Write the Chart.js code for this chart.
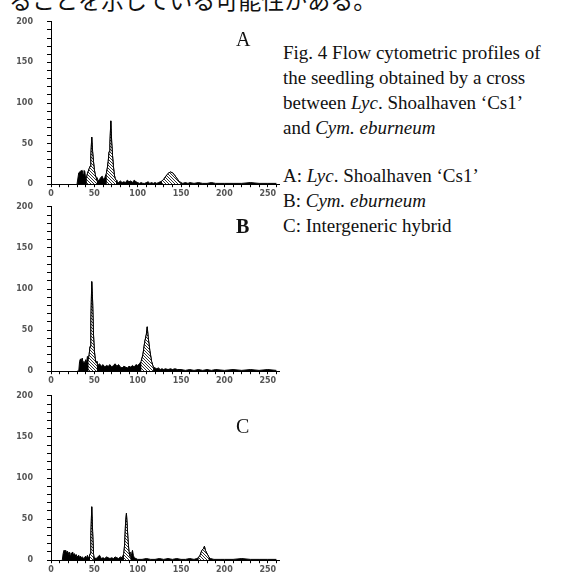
<!DOCTYPE html>
<html>
<head>
  <meta charset="utf-8">
  <title>Flow cytometric profiles</title>
  <script src="https://cdn.jsdelivr.net/npm/chart.js"></script>
  <style>
    body { margin: 0; width: 574px; height: 572px; overflow: hidden; background: #fff; position: relative; }
    canvas { position: absolute; left: 0; }
    .jp { position: absolute; left: 9px; top: -12px; font: 23px/23px "Noto Sans CJK JP"; white-space: nowrap; color: #111; }
    .panel { position: absolute; left: 236px; font: 20px/20px "Liberation Serif"; color: #111; }
    .cap { position: absolute; left: 283px; font: 19px/25px "Liberation Serif"; color: #111; white-space: nowrap; }
  </style>
</head>
<body>
  <div class="jp">ることを示している可能性がある。</div>

  <canvas id="chartA" width="283" height="200" style="top:3px"></canvas>
  <canvas id="chartB" width="283" height="202" style="top:188px"></canvas>
  <canvas id="chartC" width="283" height="202" style="top:377px"></canvas>

  <div class="panel" style="top:29px">A</div>
  <div class="panel" style="top:216px; font-weight:bold">B</div>
  <div class="panel" style="top:416px">C</div>

  <div class="cap" style="top:40px">Fig. 4 Flow cytometric profiles of<br>the seedling obtained by a cross<br>between <i>Lyc</i>. Shoalhaven ‘Cs1’<br>and <i>Cym. eburneum</i></div>
  <div class="cap" style="top:163px">A: <i>Lyc</i>. Shoalhaven ‘Cs1’<br>B: <i>Cym. eburneum</i><br>C: Intergeneric hybrid</div>

  <script>
    // channel / count pairs
    const histA = [[30,0],[31,0],[32,14],[34,16],[36,17],[37,12],[38,17],[39,16],[40,6],[41,8],[42,13],[43,16],[44,19],[45,22],[46,35],[47,58],[48,40],[49,28],[50,18],[51,12],[52,8],[53,5],[54,4],[56,6],[58,9],[59,10],[60,7],[61,5],[62,8],[64,14],[65,20],[66,28],[67,40],[68,50],[69,78],[70,52],[71,35],[72,22],[73,12],[74,7],[75,5],[76,3],[78,2],[80,4],[82,2],[84,3],[86,2],[88,5],[90,3],[92,4],[94,2],[96,5],[98,3],[100,2],[102,1],[104,2],[106,1],[108,1],[110,2],[112,3],[114,1],[116,2],[118,1],[120,2],[122,1],[124,2],[126,3],[128,4],[130,6],[132,9],[134,12],[136,14],[138,15],[140,14],[142,12],[144,9],[146,6],[148,3],[150,2],[152,1],[155,2],[158,1],[160,2],[165,1],[170,2],[175,1],[180,1],[185,2],[190,1],[200,1],[210,1],[220,1],[230,2],[240,1],[250,1],[260,1]];
    const histB = [[30,0],[32,0],[33,12],[34,15],[35,13],[36,16],[37,10],[38,12],[39,8],[40,14],[41,10],[42,18],[43,14],[44,20],[45,30],[46,60],[47,109],[48,85],[49,45],[50,25],[51,15],[52,10],[53,12],[54,7],[56,9],[58,6],[60,8],[62,5],[64,7],[66,6],[68,8],[70,5],[72,7],[74,9],[76,6],[78,8],[80,5],[82,4],[84,6],[86,5],[88,4],[90,6],[92,5],[94,7],[96,5],[98,8],[100,7],[102,9],[104,12],[106,20],[108,35],[110,45],[111,54],[112,42],[114,25],[116,12],[118,5],[120,4],[122,3],[124,4],[126,2],[128,3],[130,2],[132,3],[135,2],[138,3],[140,2],[143,3],[146,2],[150,2],[155,1],[160,2],[165,1],[170,2],[175,1],[180,2],[185,1],[190,2],[200,1],[210,2],[220,1],[230,2],[240,1],[250,2],[260,1]];
    const histC = [[13,0],[14,8],[15,12],[16,10],[17,12],[18,9],[19,11],[20,7],[21,10],[22,6],[23,9],[24,8],[25,10],[26,6],[27,8],[28,5],[29,7],[30,4],[32,6],[33,3],[34,5],[35,3],[36,4],[38,2],[40,5],[41,2],[42,6],[43,3],[44,4],[45,8],[46,30],[47,65],[48,35],[49,8],[50,3],[52,2],[54,4],[56,6],[58,2],[60,3],[62,2],[64,4],[66,3],[68,2],[70,3],[72,2],[74,4],[76,3],[78,2],[80,4],[82,3],[84,8],[85,20],[86,45],[87,57],[88,40],[89,22],[90,10],[91,5],[92,3],[93,8],[94,12],[95,6],[96,3],[98,2],[100,1],[105,1],[110,2],[115,1],[120,1],[125,2],[130,1],[135,2],[140,1],[145,2],[150,1],[155,1],[160,2],[165,1],[168,2],[170,3],[172,6],[174,12],[176,14],[177,17],[178,12],[180,8],[182,4],[184,2],[188,1],[195,1],[200,1],[210,1],[220,2],[230,1],[240,1],[250,1],[260,1]];

    // gated (hatched) peak regions, in channels
    const peaksA = [[41,53],[63,75],[128,150]];
    const peaksB = [[43,53],[103,118]];
    const peaksC = [[45,49],[84,92],[170,182]];

    const yTicks = [0, 50, 100, 150, 200];
    const xTicks = [0, 50, 100, 150, 200, 250];

    function hatch() {
      const c = document.createElement('canvas');
      c.width = 3; c.height = 3;
      const g = c.getContext('2d');
      g.fillStyle = '#fff';
      g.fillRect(0, 0, 3, 3);
      g.fillStyle = '#333';
      g.fillRect(0, 0, 1, 1);
      g.fillRect(1, 1, 1, 1);
      g.fillRect(2, 2, 1, 1);
      return g.createPattern(c, 'repeat');
    }

    const tickFont = { family: 'DejaVu Sans', size: 8, weight: 'bold' };

    function drawPanel(id, hist, peaks) {
      const pts = hist.map(p => ({ x: p[0], y: p[1] }));
      // peak points, with a gap between separate peaks
      const peakPts = [];
      peaks.forEach(r => {
        pts.filter(p => p.x >= r[0] && p.x <= r[1]).forEach(p => peakPts.push(p));
        peakPts.push({ x: r[1] + 0.5, y: null });
      });

      new Chart(document.getElementById(id), {
        type: 'line',
        data: {
          datasets: [
            {
              data: pts,
              borderColor: '#000',
              borderWidth: 1,
              backgroundColor: '#000',
              fill: 'origin',
              pointRadius: 0,
              order: 2,
            },
            {
              data: peakPts,
              borderColor: '#000',
              borderWidth: 1,
              backgroundColor: hatch(),
              fill: 'origin',
              pointRadius: 0,
              spanGaps: false,
              order: 1,
            },
          ],
        },
        options: {
          responsive: false,
          animation: false,
          layout: { padding: { top: 8, right: 4, left: 0, bottom: 0 } },
          plugins: { legend: { display: false }, tooltip: { enabled: false } },
          scales: {
            x: {
              type: 'linear',
              min: 0,
              max: 263,
              afterFit: s => { s.height = 16; },
              border: { display: true, color: '#000', width: 1 },
              grid: { drawOnChartArea: false, drawTicks: true, tickLength: 3, color: '#000' },
              ticks: {
                stepSize: 10,
                includeBounds: false,
                autoSkip: false,
                maxRotation: 0,
                padding: 2,
                color: '#555',
                font: tickFont,
                callback: v => (xTicks.includes(v) ? String(v) : ''),
              },
            },
            y: {
              min: 0,
              max: 200,
              afterFit: s => { s.width = 51; },
              border: { display: true, color: '#000', width: 1 },
              grid: { drawOnChartArea: false, drawTicks: true, tickLength: 4, color: '#000' },
              ticks: {
                stepSize: 10,
                autoSkip: false,
                padding: 14,
                color: '#555',
                font: tickFont,
                callback: v => (yTicks.includes(v) ? String(v) : ''),
              },
            },
          },
        },
      });
    }

    drawPanel('chartA', histA, peaksA);
    drawPanel('chartB', histB, peaksB);
    drawPanel('chartC', histC, peaksC);
  </script>
</body>
</html>
